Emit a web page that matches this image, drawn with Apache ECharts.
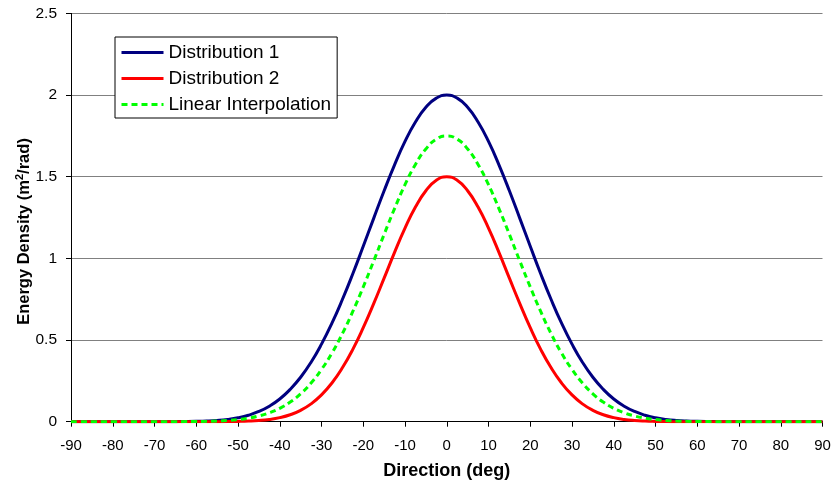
<!DOCTYPE html>
<html>
<head>
<meta charset="utf-8">
<script src="https://cdn.jsdelivr.net/npm/echarts@6/dist/echarts.min.js"></script>
<style>
html,body{margin:0;padding:0;background:#fff;}
#chart{width:834px;height:486px;}
</style>
</head>
<body>
<div id="chart"></div>
<script>
var directions = [-90,-87.5,-85,-82.5,-80,-77.5,-75,-72.5,-70,-67.5,-65,-62.5,-60,-57.5,-55,-52.5,-50,-47.5,-45,-42.5,-40,-37.5,-35,-32.5,-30,-27.5,-25,-22.5,-20,-17.5,-15,-12.5,-10,-7.5,-5,-2.5,0,2.5,5,7.5,10,12.5,15,17.5,20,22.5,25,27.5,30,32.5,35,37.5,40,42.5,45,47.5,50,52.5,55,57.5,60,62.5,65,67.5,70,72.5,75,77.5,80,82.5,85,87.5,90];
var distribution1 = [0,0,0,0,0,0,0,0,0,0.0001,0.0004,0.0009,0.002,0.004,0.0077,0.014,0.0241,0.0396,0.0625,0.095,0.139,0.198,0.272,0.364,0.475,0.603,0.748,0.906,1.074,1.245,1.414,1.573,1.716,1.835,1.925,1.981,2.0,1.981,1.925,1.835,1.716,1.573,1.414,1.245,1.074,0.906,0.748,0.603,0.475,0.364,0.272,0.198,0.139,0.095,0.0625,0.0396,0.0241,0.014,0.0077,0.004,0.002,0.0009,0.0004,0.0001,0,0,0,0,0,0,0,0,0];
var distribution2 = [0,0,0,0,0,0,0,0,0,0,0,0,0,0.0001,0.0003,0.0007,0.0017,0.0036,0.0072,0.0137,0.0248,0.0425,0.0695,0.109,0.164,0.237,0.33,0.443,0.576,0.723,0.879,1.037,1.185,1.314,1.414,1.478,1.5,1.478,1.414,1.314,1.185,1.037,0.879,0.723,0.576,0.443,0.33,0.237,0.164,0.109,0.0695,0.0425,0.0248,0.0137,0.0072,0.0036,0.0017,0.0007,0.0003,0.0001,0,0,0,0,0,0,0,0,0,0,0,0,0];
var linearInterp = [0,0,0,0,0,0,0,0,0,0,0.0002,0.0005,0.001,0.002,0.004,0.0074,0.0129,0.0216,0.035,0.0544,0.082,0.12,0.171,0.237,0.32,0.42,0.539,0.675,0.825,0.984,1.147,1.305,1.451,1.575,1.67,1.73,1.75,1.73,1.67,1.575,1.451,1.305,1.147,0.984,0.825,0.675,0.539,0.42,0.32,0.237,0.171,0.12,0.082,0.0544,0.035,0.0216,0.0129,0.0074,0.004,0.002,0.001,0.0005,0.0002,0,0,0,0,0,0,0,0,0,0];
var seriesNames = ['Distribution 1','Distribution 2','Linear Interpolation'];

function pairs(ys){ return directions.map(function(x,i){ return [x, ys[i]]; }); }

var FONT = 'Liberation Sans, Arial, sans-serif';
var chart = echarts.init(document.getElementById('chart'), null, {renderer:'canvas'});
chart.setOption({
  animation: false,
  backgroundColor: '#fff',
  grid: {left: 71, right: 11.5, top: 13.4, bottom: 64.3},
  legend: {
    orient: 'vertical', left: 115, top: 37,
    data: seriesNames,
    backgroundColor: '#fff', borderColor: '#000', borderWidth: 1,
    padding: [6, 6, 4, 5], itemGap: 7, itemWidth: 42, itemHeight: 14,
    itemStyle: {opacity: 0},
    lineStyle: {width: 3},
    textStyle: {fontFamily: FONT, fontSize: 19, color: '#000'}
  },
  xAxis: {
    type: 'value', min: -90, max: 90, interval: 10,
    name: 'Direction (deg)', nameLocation: 'middle', nameGap: 40,
    nameTextStyle: {fontFamily: FONT, fontSize: 18, fontWeight: 'bold', color: '#000'},
    axisLine: {show: true, onZero: false, lineStyle: {color: '#000', width: 1}},
    axisTick: {show: true, length: 5, lineStyle: {color: '#000'}},
    axisLabel: {fontFamily: FONT, fontSize: 15, color: '#000', margin: 17},
    splitLine: {show: false}
  },
  yAxis: {
    type: 'value', min: 0, max: 2.5, interval: 0.5,
    axisLine: {show: true, onZero: false, lineStyle: {color: '#000', width: 1}},
    axisTick: {show: true, length: 5, lineStyle: {color: '#000'}},
    axisLabel: {fontFamily: FONT, fontSize: 15.5, color: '#000', margin: 14},
    splitLine: {show: true, lineStyle: {color: '#808080', width: 1}}
  },
  graphic: [{
    type: 'text', x: 24.5, y: 231.5, rotation: Math.PI / 2,
    style: {
      text: 'Energy Density (m{sup|2}/rad)',
      fontFamily: FONT, fontSize: 16.5, fontWeight: 'bold', fill: '#000',
      align: 'center', verticalAlign: 'middle',
      rich: {sup: {fontFamily: FONT, fontSize: 11, fontWeight: 'bold', fill: '#000', verticalAlign: 'top', padding: [0, 0, 10, 0]}}
    }
  }],
  series: [
    {name: seriesNames[0], type: 'line', data: pairs(distribution1), smooth: true, showSymbol: false, symbol: 'none',
     lineStyle: {color: '#000080', width: 3}, itemStyle: {color: '#000080'}},
    {name: seriesNames[1], type: 'line', data: pairs(distribution2), smooth: true, showSymbol: false, symbol: 'none',
     lineStyle: {color: '#ff0000', width: 3}, itemStyle: {color: '#ff0000'}},
    {name: seriesNames[2], type: 'line', data: pairs(linearInterp), smooth: true, showSymbol: false, symbol: 'none',
     lineStyle: {color: '#00ff00', width: 3, type: [6, 4]}, itemStyle: {color: '#00ff00'}}
  ]
});
</script>
</body>
</html>
